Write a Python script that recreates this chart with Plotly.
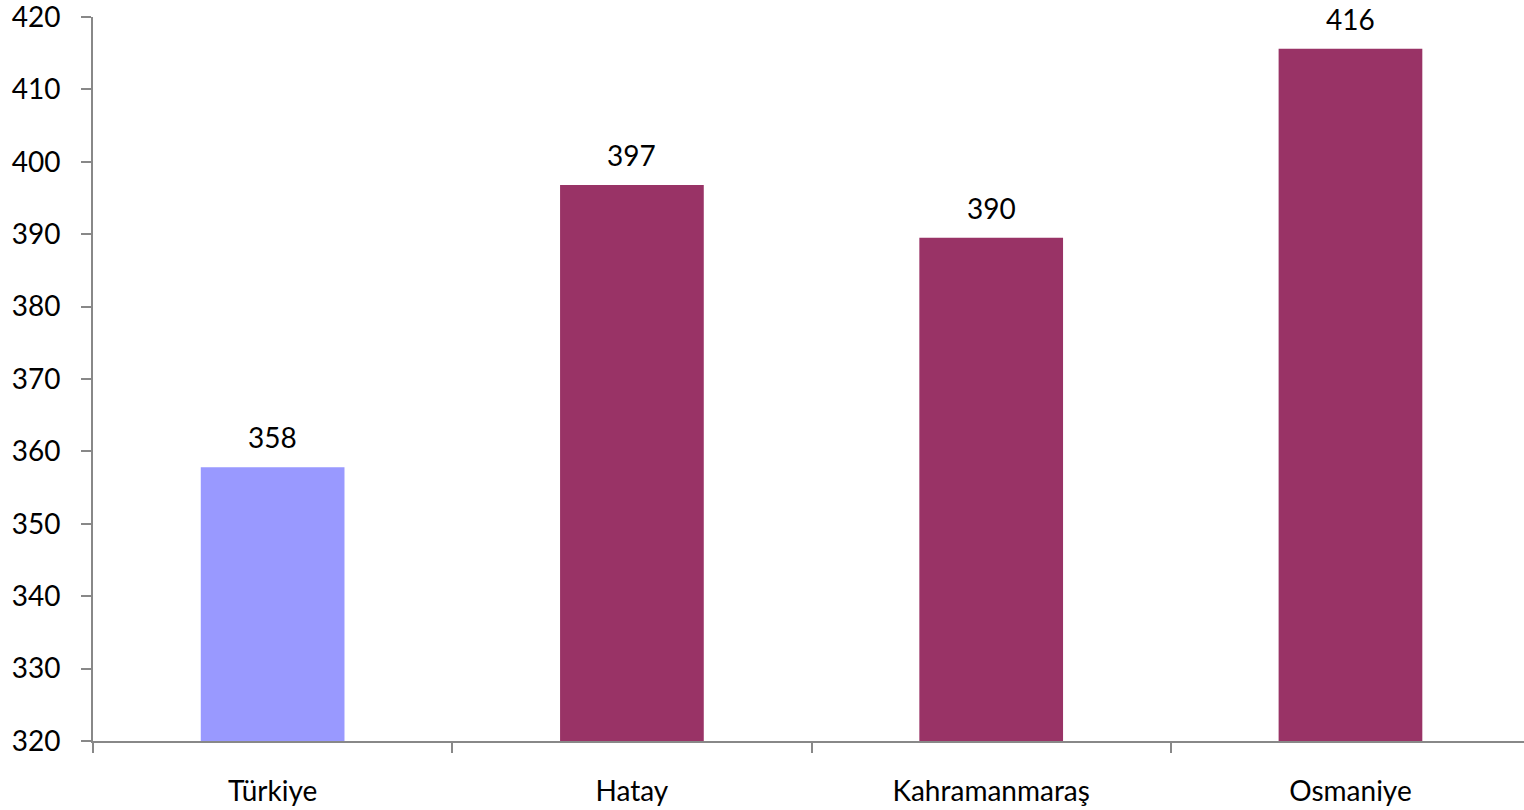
import plotly.graph_objects as go

categories = ["Türkiye", "Hatay", "Kahramanmaraş", "Osmaniye"]
values = [357.8, 396.8, 389.5, 415.6]
labels = ["358", "397", "390", "416"]
colors = ["#9999FF", "#993366", "#993366", "#993366"]
y_ticks = list(range(320, 421, 10))

FONT = "Lato"
FS = 28
AXIS_COLOR = "#888888"

fig = go.Figure()
fig.add_trace(go.Bar(
    x=categories,
    y=values,
    marker=dict(color=colors, line=dict(width=0)),
    width=0.4,
    hoverinfo="skip",
))

for c, v, t in zip(categories, values, labels):
    fig.add_annotation(
        x=c, y=v, text=t, showarrow=False,
        yanchor="bottom", yshift=11,
        font=dict(family=FONT, size=FS, color="#000000"),
    )

fig.update_layout(
    width=1524, height=810,
    margin=dict(l=93, r=0, t=17, b=69),
    paper_bgcolor="white",
    plot_bgcolor="white",
    showlegend=False,
    font=dict(family=FONT, size=FS, color="#000000"),
)

fig.update_xaxes(
    range=[-0.5, 3.483],
    automargin=False,
    showline=True, linecolor=AXIS_COLOR, linewidth=2,
    ticks="outside", tickson="boundaries", ticklen=10, tickwidth=2, tickcolor=AXIS_COLOR,
    showgrid=False, zeroline=False,
    ticklabelstandoff=24,
    ticklabeloverflow="allow",
    tickfont=dict(family=FONT, size=FS, color="#000000"),
)
fig.update_yaxes(
    range=[320, 420],
    automargin=False,
    tickvals=y_ticks,
    showline=True, linecolor=AXIS_COLOR, linewidth=2,
    ticks="outside", ticklen=10, tickwidth=2, tickcolor=AXIS_COLOR,
    showgrid=False, zeroline=False,
    ticklabelstandoff=15,
    ticklabeloverflow="allow",
    tickfont=dict(family=FONT, size=FS, color="#000000"),
)

fig.write_html(
    "out.html",
    config={"displayModeBar": False},
    post_script="document.body.style.margin='0';document.body.style.overflow='hidden';",
)
